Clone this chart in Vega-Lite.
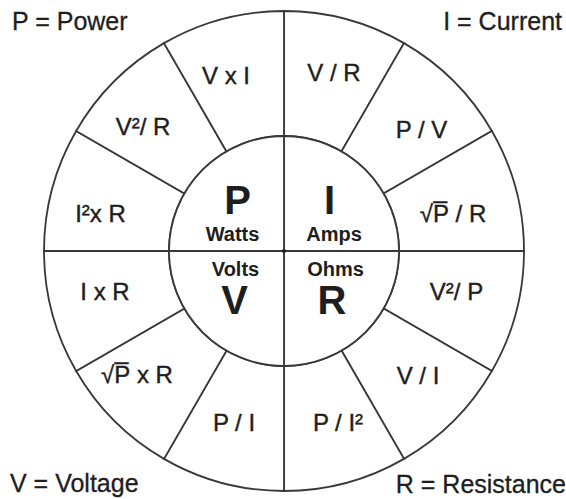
{
  "$schema": "https://vega.github.io/schema/vega-lite/v6.json",
  "width": 566,
  "height": 499,
  "autosize": {"type": "fit", "contains": "padding"},
  "padding": {"left": 2, "top": 3, "right": 0, "bottom": 0},
  "background": "white",
  "config": {"view": {"stroke": null}, "text": {"font": "Liberation Sans", "color": "#1e1e1e"}},
  "layer": [
    {
      "data": {"values": [
        {"seg": 1, "v": 1, "formula": "V/R"}, {"seg": 2, "v": 1, "formula": "P/V"}, {"seg": 3, "v": 1, "formula": "sqrt(P/R)"},
        {"seg": 4, "v": 1, "formula": "V²/P"}, {"seg": 5, "v": 1, "formula": "V/I"}, {"seg": 6, "v": 1, "formula": "P/I²"},
        {"seg": 7, "v": 1, "formula": "P/I"}, {"seg": 8, "v": 1, "formula": "sqrt(PxR)"}, {"seg": 9, "v": 1, "formula": "IxR"},
        {"seg": 10, "v": 1, "formula": "I²xR"}, {"seg": 11, "v": 1, "formula": "V²/R"}, {"seg": 12, "v": 1, "formula": "VxI"}
      ]},
      "mark": {"type": "arc", "innerRadius": 115, "outerRadius": 240, "fill": "white", "stroke": "#383838", "strokeWidth": 1.8},
      "encoding": {
        "theta": {"field": "v", "type": "quantitative", "stack": true},
        "order": {"field": "seg", "type": "quantitative"}
      }
    },
    {
      "data": {"values": [
        {"q": 1, "v": 3, "unit": "I"}, {"q": 2, "v": 3, "unit": "R"}, {"q": 3, "v": 3, "unit": "V"}, {"q": 4, "v": 3, "unit": "P"}
      ]},
      "mark": {"type": "arc", "innerRadius": 0, "outerRadius": 115, "fill": "white", "stroke": "#383838", "strokeWidth": 1.8},
      "encoding": {
        "theta": {"field": "v", "type": "quantitative", "stack": true},
        "order": {"field": "q", "type": "quantitative"}
      }
    },
    {
      "data": {"values": [{"x": 0, "y": 0}]},
      "mark": {"type": "point", "filled": true, "color": "#222", "size": 18, "opacity": 1},
      "encoding": {
        "x": {"field": "x", "type": "quantitative", "scale": {"domain": [-282, 282]}, "axis": null},
        "y": {"field": "y", "type": "quantitative", "scale": {"domain": [-248, 248]}, "axis": null}
      }
    },
    {
      "data": {"values": [
        {"label": "V x I", "x": -58, "y": 174.5},
        {"label": "V / R", "x": 50, "y": 177},
        {"label": "P / V", "x": 137.5, "y": 120},
        {"label": "√P̅ / R", "x": 169, "y": 36.5},
        {"label": "V²/ P", "x": 172.5, "y": -41.5},
        {"label": "V / I", "x": 134, "y": -125.5},
        {"label": "P / I²", "x": 54, "y": -172.5},
        {"label": "P / I", "x": -50, "y": -173},
        {"label": "√P̅ x R", "x": -147, "y": -124.5},
        {"label": "I x R", "x": -179, "y": -41.5},
        {"label": "I²x R", "x": -183.5, "y": 36.5},
        {"label": "V²/ R", "x": -141, "y": 123.5}
      ]},
      "mark": {"type": "text", "fontSize": 24, "align": "center", "baseline": "middle", "stroke": "#1e1e1e", "strokeWidth": 0.4},
      "encoding": {
        "x": {"field": "x", "type": "quantitative", "scale": {"domain": [-282, 282]}, "axis": null},
        "y": {"field": "y", "type": "quantitative", "scale": {"domain": [-248, 248]}, "axis": null},
        "text": {"field": "label"}
      }
    },
    {
      "data": {"values": [
        {"label": "P", "x": -46.5, "y": 49.5},
        {"label": "I", "x": 45.5, "y": 49.5},
        {"label": "V", "x": -49.5, "y": -51},
        {"label": "R", "x": 48, "y": -51}
      ]},
      "mark": {"type": "text", "fontSize": 40, "fontWeight": "bold", "align": "center", "baseline": "middle"},
      "encoding": {
        "x": {"field": "x", "type": "quantitative", "scale": {"domain": [-282, 282]}, "axis": null},
        "y": {"field": "y", "type": "quantitative", "scale": {"domain": [-248, 248]}, "axis": null},
        "text": {"field": "label"}
      }
    },
    {
      "data": {"values": [
        {"label": "Watts", "x": -51.5, "y": 16},
        {"label": "Amps", "x": 50, "y": 16},
        {"label": "Volts", "x": -48.5, "y": -18.5},
        {"label": "Ohms", "x": 51.5, "y": -18.5}
      ]},
      "mark": {"type": "text", "fontSize": 20, "fontWeight": "bold", "align": "center", "baseline": "middle"},
      "encoding": {
        "x": {"field": "x", "type": "quantitative", "scale": {"domain": [-282, 282]}, "axis": null},
        "y": {"field": "y", "type": "quantitative", "scale": {"domain": [-248, 248]}, "axis": null},
        "text": {"field": "label"}
      }
    },
    {
      "data": {"values": [
        {"label": "P = Power", "x": -272, "y": 221},
        {"label": "V = Voltage", "x": -274, "y": -241}
      ]},
      "mark": {"type": "text", "fontSize": 25, "align": "left", "baseline": "alphabetic", "stroke": "#1e1e1e", "strokeWidth": 0.3},
      "encoding": {
        "x": {"field": "x", "type": "quantitative", "scale": {"domain": [-282, 282]}, "axis": null},
        "y": {"field": "y", "type": "quantitative", "scale": {"domain": [-248, 248]}, "axis": null},
        "text": {"field": "label"}
      }
    },
    {
      "data": {"values": [
        {"label": "I = Current", "x": 278, "y": 221},
        {"label": "R = Resistance", "x": 282, "y": -242}
      ]},
      "mark": {"type": "text", "fontSize": 25, "align": "right", "baseline": "alphabetic", "stroke": "#1e1e1e", "strokeWidth": 0.3},
      "encoding": {
        "x": {"field": "x", "type": "quantitative", "scale": {"domain": [-282, 282]}, "axis": null},
        "y": {"field": "y", "type": "quantitative", "scale": {"domain": [-248, 248]}, "axis": null},
        "text": {"field": "label"}
      }
    }
  ]
}
